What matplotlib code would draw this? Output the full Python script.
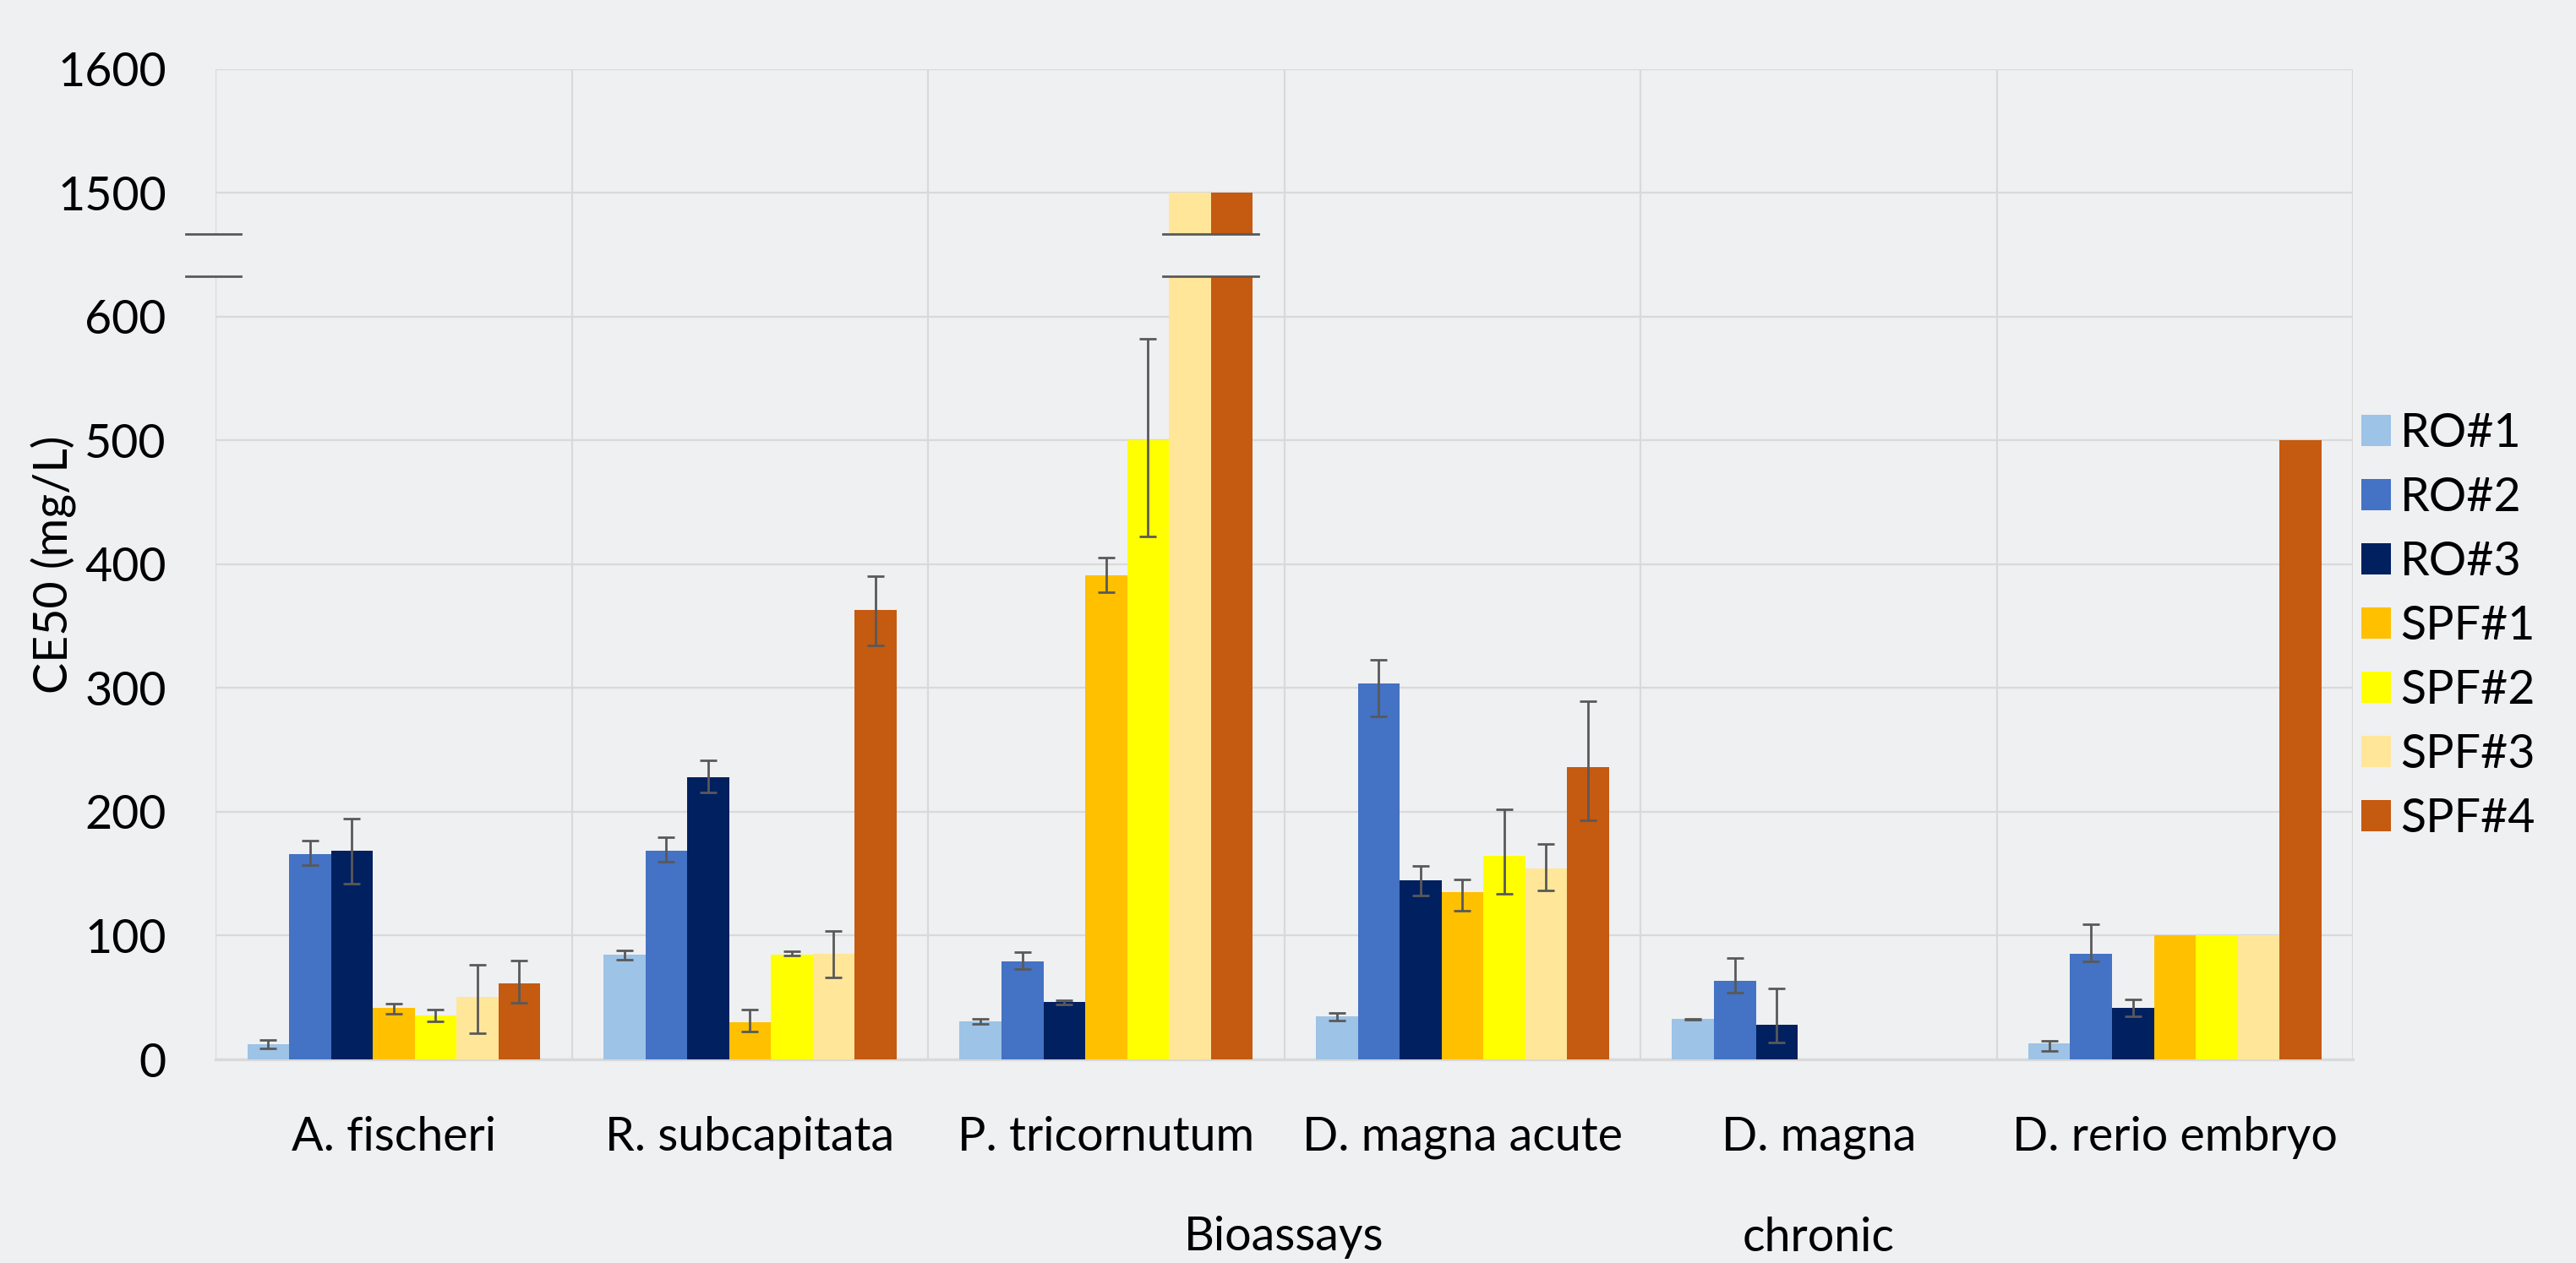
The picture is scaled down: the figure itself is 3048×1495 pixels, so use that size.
import matplotlib
matplotlib.use("Agg")
import matplotlib.pyplot as plt
import numpy as np

plt.rcParams['font.family'] = ['Lato', 'DejaVu Sans']

# données (CE50 en mg/L)
categories = ["A. fischeri", "R. subcapitata", "P. tricornutum",
              "D. magna acute", "D. magna\nchronic", "D. rerio embryo"]
series = ["RO#1", "RO#2", "RO#3", "SPF#1", "SPF#2", "SPF#3", "SPF#4"]
colors = ["#9DC3E6", "#4472C4", "#002060", "#FFC000", "#FFFF00", "#FFE699", "#C55A11"]

ro1 = [12.4, 84.3, 30.7, 34.6, 32.6, 12.8]
ro2 = [166, 168.6, 79.2, 304, 63.3, 85.3]
ro3 = [168.3, 227.9, 46.1, 144.4, 28.2, 41.3]
spf1 = [41.4, 30.2, 391.2, 134.9, 0, 100]
spf2 = [35.4, 84.6, 500.2, 164.2, 0, 100]
spf3 = [50.6, 85.2, 1500, 154, 0, 100]
spf4 = [61.6, 363.3, 1500, 236.1, 0, 500]

# barres d'erreur (bas, haut) ; nan = pas de barre
ro1_err = [[3.2, 3.6, 1.9, 3.1, 0.5, 6.0], [3.1, 3.6, 1.9, 3.1, 0.5, 2.0]]
ro2_err = [[9, 9, 6.5, 27, 9.2, 6.4], [11, 11, 7.4, 19, 18.6, 23.6]]
ro3_err = [[26, 12, 1.6, 11.7, 14.4, 6.7], [26, 14, 1.6, 11.7, 29, 7]]
spf1_err = [[4.3, 7.5, 13.5, 14.5, np.nan, np.nan], [3.5, 9.8, 14, 10.5, np.nan, np.nan]]
spf2_err = [[4.6, 0.6, 78, 30.6, np.nan, np.nan], [4.6, 3, 82, 38, np.nan, np.nan]]
spf3_err = [[29.6, 19, np.nan, 17.6, np.nan, np.nan], [26, 18.7, np.nan, 19.8, np.nan, np.nan]]
spf4_err = [[15.6, 29, np.nan, 42.6, np.nan, np.nan], [18, 27, np.nan, 53, np.nan, np.nan]]

values = [ro1, ro2, ro3, spf1, spf2, spf3, spf4]
errors = [ro1_err, ro2_err, ro3_err, spf1_err, spf2_err, spf3_err, spf4_err]

yticks = [0, 100, 200, 300, 400, 500, 600, 1500, 1600]

bg = "#EFF0F2"
grid_c = "#D9D9D9"
err_c = "#595959"


# axe coupé : 600 -> 1500 comprimé
def fwd(y):
    y = np.asarray(y, dtype=float)
    return np.where(y <= 600, y, np.where(y >= 1500, y - 800, 600 + (y - 600) / 9.0))


def inv(d):
    d = np.asarray(d, dtype=float)
    return np.where(d <= 600, d, np.where(d >= 700, d + 800, 600 + (d - 600) * 9.0))


fig = plt.figure(figsize=(15.24, 7.475), dpi=200, facecolor=bg)
ax = fig.add_axes([0.0837, 0.1612, 0.8297, 0.784])
ax.set_facecolor(bg)
ax.set_yscale('function', functions=(fwd, inv))
ax.set_ylim(0, 1600)

n = len(series)
w = 0.1175
x = np.arange(len(categories))

for j in range(n):
    xs = x + (j - (n - 1) / 2) * w
    ax.bar(xs, values[j], width=w, color=colors[j], label=series[j], linewidth=0, zorder=3)
    lo = np.array(errors[j][0])
    hi = np.array(errors[j][1])
    m = ~np.isnan(lo)
    if m.any():
        ax.errorbar(xs[m], np.array(values[j])[m], yerr=[lo[m], hi[m]], fmt='none',
                    ecolor=err_c, elinewidth=1.0, capsize=3.6, capthick=1.0, zorder=4)

# coupure
b_lo, b_hi = 633, 667
y_lo, y_hi = float(inv(b_lo)), float(inv(b_hi))

# coupure sur les barres qui dépassent
for i in range(len(categories)):
    tall = [j for j in range(n) if values[j][i] >= 1500]
    if tall:
        x0 = x[i] + (min(tall) - (n - 1) / 2) * w - w / 2 - 0.017
        x1 = x[i] + (max(tall) - (n - 1) / 2) * w + w / 2 + 0.017
        ax.fill_between([x0, x1], y_lo, y_hi, color=bg, zorder=5, linewidth=0)
        ax.plot([x0, x1], [y_lo, y_lo], color=err_c, lw=1.0, zorder=6)
        ax.plot([x0, x1], [y_hi, y_hi], color=err_c, lw=1.0, zorder=6)

# grilles
for t in yticks:
    ax.axhline(t, color=grid_c, lw=0.8, zorder=1)
for b in np.arange(-0.5, len(categories), 1.0)[1:]:
    ax.axvline(b, color=grid_c, lw=0.8, zorder=1)
ax.axvline(-0.5, ymax=b_lo / 800, color=grid_c, lw=0.8, zorder=1)
ax.axvline(-0.5, ymin=b_hi / 800, color=grid_c, lw=0.8, zorder=1)
for yy in (y_lo, y_hi):
    ax.plot([-0.583, -0.43], [yy, yy], color=err_c, lw=1.0, zorder=6, clip_on=False)

ax.set_xlim(-0.5, len(categories) - 0.5)
for s in ['top', 'right', 'left']:
    ax.spines[s].set_visible(False)
ax.spines['bottom'].set_color(grid_c)
ax.spines['bottom'].set_linewidth(1.2)
ax.spines['bottom'].set_zorder(2)

ax.set_yticks(yticks)
ax.set_yticklabels([str(t) for t in yticks])
ax.set_xticks(x)
ax.set_xticklabels(categories, linespacing=2.67)
ax.tick_params(axis='y', length=0, pad=21, labelsize=20)
ax.tick_params(axis='x', length=0, pad=24, labelsize=20)
ax.minorticks_off()

ax.set_ylabel('CE50 (mg/L)', fontsize=20, va='center')
ax.yaxis.set_label_coords(-0.0755, 0.5)
ax.set_xlabel('Bioassays', fontsize=20)
ax.xaxis.set_label_coords(0.5, -0.158)

leg = ax.legend(loc='center right', bbox_to_anchor=(0.984, 0.504), bbox_transform=fig.transFigure,
                frameon=False, fontsize=20, handlelength=0.63, handleheight=0.63,
                handletextpad=0.2, labelspacing=0.45, borderpad=0, borderaxespad=0)

fig.savefig('out.png', dpi=200, facecolor=bg)
